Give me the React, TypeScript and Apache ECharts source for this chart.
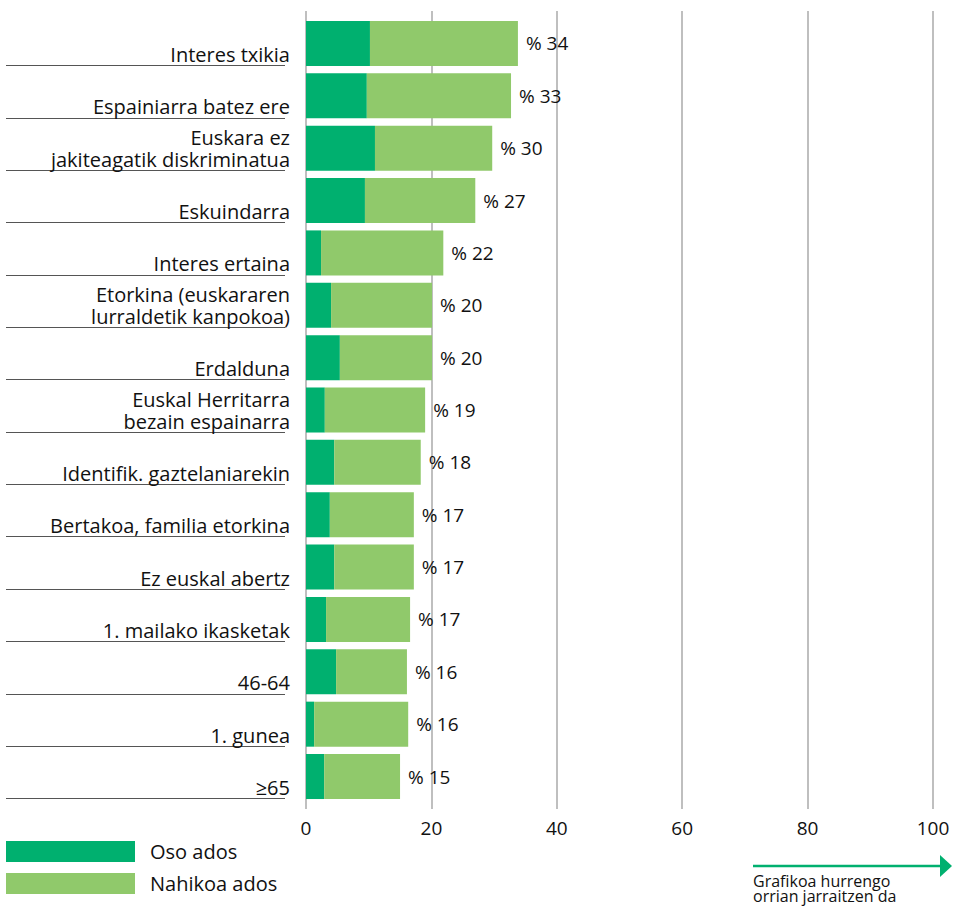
import React, { useEffect, useRef } from "react";
import * as echarts from "echarts";

const categories = [
  "Interes txikia",
  "Espainiarra batez ere",
  "Euskara ez\njakiteagatik diskriminatua",
  "Eskuindarra",
  "Interes ertaina",
  "Etorkina (euskararen\nlurraldetik kanpokoa)",
  "Erdalduna",
  "Euskal Herritarra\nbezain espainarra",
  "Identifik. gaztelaniarekin",
  "Bertakoa, familia etorkina",
  "Ez euskal abertz",
  "1. mailako ikasketak",
  "46-64",
  "1. gunea",
  "≥65",
];
const osoAdos = [10.2, 9.7, 11.0, 9.4, 2.4, 4.0, 5.4, 3.0, 4.5, 3.8, 4.5, 3.2, 4.8, 1.3, 2.9];
const nahikoaAdos = [23.6, 23.0, 18.7, 17.6, 19.5, 16.1, 14.7, 16.0, 13.8, 13.4, 12.7, 13.4, 11.3, 15.0, 12.1];
const totals = [34, 33, 30, 27, 22, 20, 20, 19, 18, 17, 17, 17, 16, 16, 15];
const seriesNames = ["Oso ados", "Nahikoa ados"];
const xTicks = [0, 20, 40, 60, 80, 100];
const noteText = "Grafikoa hurrengo\norrian jarraitzen da";

const DARK = "#00b06f";
const LIGHT = "#90c96b";
const FONT = "Open Sans";

export default function App() {
  const ref = useRef<HTMLDivElement>(null);
  useEffect(() => {
    if (!ref.current) return;
    const chart = echarts.init(ref.current, null, { renderer: "svg" });
    const barTop = 17.3;
    const barHeight = 785.4;
    chart.setOption({
      animation: false,
      textStyle: { fontFamily: FONT },
      grid: [
        { left: 306, width: 627, top: 11, height: 798 },
        { left: 306, width: 627, top: barTop, height: barHeight },
        { left: 6, width: 279, top: barTop - 4.2, height: barHeight },
      ],
      xAxis: [
        {
          gridIndex: 0,
          type: "value",
          min: xTicks[0],
          max: xTicks[xTicks.length - 1],
          interval: 20,
          axisLine: { show: false },
          axisTick: { show: false },
          splitLine: { show: true, lineStyle: { color: "#aaaaaa", width: 1.5 } },
          axisLabel: { color: "#111", fontSize: 19, margin: 9, fontFamily: FONT },
        },
        { gridIndex: 1, type: "value", min: 0, max: 100, show: false },
        { gridIndex: 2, type: "value", min: 0, max: 1, show: false },
      ],
      yAxis: [
        { gridIndex: 0, type: "value", min: 0, max: 1, show: false },
        {
          gridIndex: 1,
          type: "category",
          inverse: true,
          data: categories,
          axisLine: { show: false },
          axisTick: { show: false },
          splitLine: { show: false },
          axisLabel: {
            margin: 16,
            color: "#111",
            fontSize: 20,
            lineHeight: 22,
            align: "right",
            verticalAlign: "middle",
            padding: [0, 0, 6, 0],
            fontFamily: FONT,
            formatter: (v: string) => (v.indexOf("\n") >= 0 ? v : "\n" + v),
          },
        },
        {
          gridIndex: 2,
          type: "category",
          inverse: true,
          data: categories,
          axisLine: { show: false },
          axisTick: { show: false },
          axisLabel: { show: false },
          splitLine: {
            show: true,
            showMinLine: false,
            lineStyle: { color: "#555555", width: 1 },
          },
        },
      ],
      legend: {
        orient: "vertical",
        left: 6,
        top: 841,
        padding: 0,
        itemWidth: 129,
        itemHeight: 21,
        itemGap: 11,
        icon: "rect",
        data: seriesNames,
        textStyle: { fontSize: 20, color: "#111", fontFamily: FONT, padding: [0, 0, 0, 10] },
      },
      series: [
        {
          name: seriesNames[0],
          type: "bar",
          stack: "total",
          xAxisIndex: 1,
          yAxisIndex: 1,
          barCategoryGap: "14%",
          itemStyle: { color: DARK },
          data: osoAdos,
        },
        {
          name: seriesNames[1],
          type: "bar",
          stack: "total",
          xAxisIndex: 1,
          yAxisIndex: 1,
          barCategoryGap: "14%",
          itemStyle: { color: LIGHT },
          data: nahikoaAdos,
          label: {
            show: true,
            position: "right",
            distance: 8,
            color: "#111",
            fontSize: 19,
            fontFamily: FONT,
            formatter: (p: any) => "% " + totals[p.dataIndex],
          },
        },
      ],
      graphic: [
        {
          type: "line",
          shape: { x1: 753, y1: 866, x2: 941, y2: 866 },
          style: { stroke: DARK, lineWidth: 2.5 },
        },
        {
          type: "polygon",
          shape: { points: [[940, 855], [952, 866], [940, 877]] },
          style: { fill: DARK },
        },
        {
          type: "text",
          left: 753,
          top: 873,
          style: {
            text: noteText,
            fontSize: 16,
            lineHeight: 14.5,
            fill: "#111",
            fontFamily: FONT,
          },
        },
      ],
    });
    return () => chart.dispose();
  }, []);
  return (
    <div
      ref={ref}
      style={{ position: "absolute", left: 0, top: 0, width: 953, height: 907 }}
    />
  );
}
